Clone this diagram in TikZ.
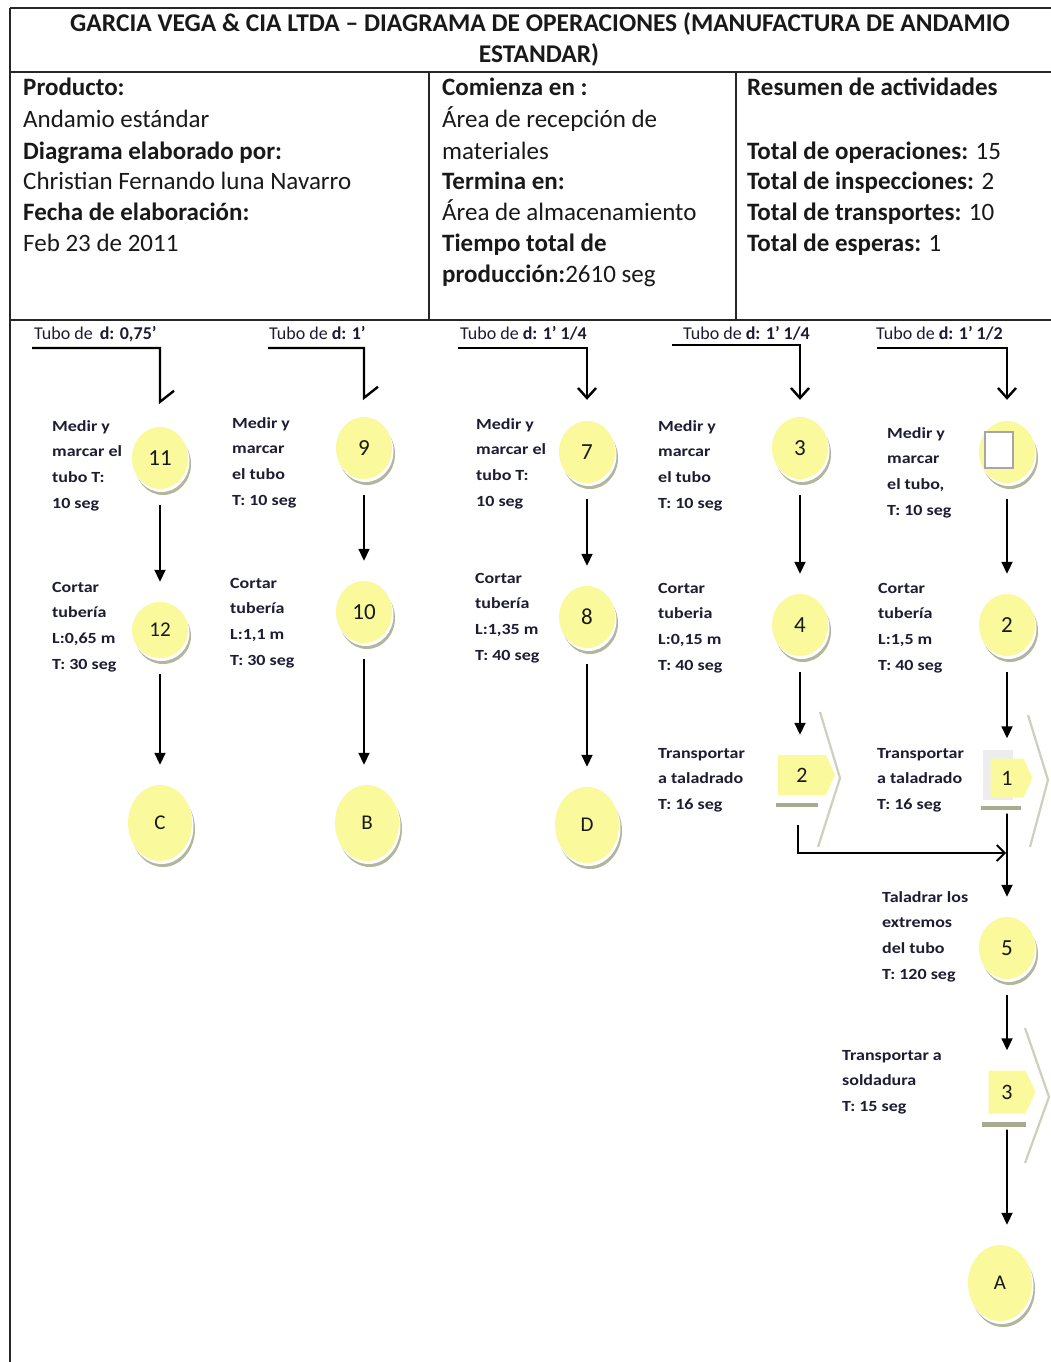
\documentclass[tikz,border=0pt]{standalone}
\usepackage{fontspec}
\setmainfont{Carlito}
\newfontfamily\lblfont{Carlito}[FakeStretch=1.16]
\usetikzlibrary{arrows.meta,shapes.geometric,shapes.symbols,shadows}
\definecolor{yel}{RGB}{250,249,155}
\definecolor{shd}{RGB}{178,182,158}
\definecolor{chev}{RGB}{205,208,186}
\definecolor{barc}{RGB}{168,171,142}
\definecolor{ink}{RGB}{28,28,50}
\definecolor{hdr}{RGB}{25,25,25}
\begin{document}
\begin{tikzpicture}[x=1pt,y=-1pt,
 frame/.style={line width=1.8pt, draw=black!85},
 hbold/.style={anchor=base west, inner sep=0, font=\fontsize{25}{31}\selectfont\bfseries, text=hdr},
 hreg/.style={anchor=base west, inner sep=0, font=\fontsize{25}{31}\selectfont, text=hdr},
 ttl/.style={anchor=base, inner sep=0, font=\fontsize{25.5}{31}\selectfont\bfseries, text=hdr},
 lbl/.style={anchor=base west, inner sep=0, align=left, font=\lblfont\bfseries\fontsize{15.5}{25.8}\selectfont, text=ink},
 lbl4/.style={lbl, yshift=-77.4pt},
 lbl3/.style={lbl, yshift=-51.6pt},
 tubelbl/.style={anchor=base west, inner sep=0, font=\fontsize{18}{20}\selectfont, text=ink},
 op/.style={ellipse, fill=yel, inner sep=0, minimum width=56pt, minimum height=62pt, font=\fontsize{23}{23}\selectfont, text=hdr,
   general shadow={fill=shd, shadow xshift=3pt, shadow yshift=-6pt},
   general shadow={fill=white, shadow xshift=1.5pt, shadow yshift=-3pt}},
 fin/.style={op, minimum width=64pt, minimum height=76pt, font=\fontsize{21}{21}\selectfont},
 tr/.style={signal, signal to=east, signal pointer angle=130, fill=yel, inner sep=0, font=\fontsize{22}{22}\selectfont, text=hdr},
 flow/.style={line width=1.8pt, -{Triangle[length=12pt,width=11pt]}, shorten <=16pt, shorten >=20pt},
 tube/.style={line width=2.4pt},
 tubetip/.style={tube, -{Straight Barb[length=10pt,width=18pt]}},
 bar/.style={line width=4.5pt, draw=barc},
 chevl/.style={line width=2.2pt, draw=chev},
]
\useasboundingbox (0,0) rectangle (1051,1362);
\fill[white] (0,0) rectangle (1051,1362);

% frame
\draw[frame] (10,8) -- (1051,8);
\draw[frame] (10,72) -- (1051,72);
\draw[frame] (10,320) -- (1051,320);
\draw[frame] (10,8) -- (10,1362);
\draw[frame] (429,72) -- (429,320);
\draw[frame] (736,72) -- (736,320);

% title
\node[ttl] (title1) at (540,32) {GARCIA VEGA \& CIA LTDA – DIAGRAMA DE OPERACIONES (MANUFACTURA DE ANDAMIO};
\node[ttl] (title2) at (539,63) {ESTANDAR)};

% info column 1
\node[hbold] (p1) at (23,96) {Producto:};
\node[hreg]  (p2) at (23,128) {Andamio estándar};
\node[hbold] (p3) at (23,160) {Diagrama elaborado por:};
\node[hreg]  (p4) at (23,189) {Christian Fernando luna Navarro};
\node[hbold] (p5) at (23,220) {Fecha de elaboración:};
\node[hreg]  (p6) at (23,251) {Feb 23 de 2011};
% info column 2
\node[hbold] (q1) at (442,96) {Comienza en :};
\node[hreg]  (q2) at (442,128) {Área de recepción de};
\node[hreg]  (q3) at (442,160) {materiales};
\node[hbold] (q4) at (442,189) {Termina en:};
\node[hreg]  (q5) at (442,220) {Área de almacenamiento};
\node[hbold] (q6) at (442,251) {Tiempo total de};
\node[hreg]  (q7) at (442,282) {\textbf{producción:}2610 seg};
% info column 3
\node[hbold] (r1) at (747,96) {Resumen de actividades};
\node[hreg]  (r2) at (747,160) {\textbf{Total de operaciones:} 15};
\node[hreg]  (r3) at (747,189) {\textbf{Total de inspecciones:} 2};
\node[hreg]  (r4) at (747,220) {\textbf{Total de transportes:} 10};
\node[hreg]  (r5) at (747,251) {\textbf{Total de esperas:} 1};

% tube labels
\node[tubelbl] (tl1) at (34,339) {Tubo de \,\textbf{d: 0,75’}};
\node[tubelbl] (tl2) at (269,339) {Tubo de \textbf{d: 1’}};
\node[tubelbl] (tl3) at (460,339) {Tubo de \textbf{d: 1’ 1/4}};
\node[tubelbl] (tl4) at (683,339) {Tubo de \textbf{d: 1’ 1/4}};
\node[tubelbl] (tl5) at (876,339) {Tubo de \textbf{d: 1’ 1/2}};

% column 1
\node[op] (n11) at (160,458) {11};
\node[op, minimum height=56pt, font=\fontsize{21}{21}\selectfont] (n12) at (160,630) {12};
\node[fin] (nC) at (160,823) {C};
\node[lbl4] (l11) at (52,431) {Medir y\\marcar el\\tubo T:\\10 seg};
\node[lbl4] (l12) at (52,592) {Cortar\\tubería\\L:0,65 m\\T: 30 seg};

% column 2
\node[op] (n9) at (364,448) {9};
\node[op] (n10) at (364,612) {10};
\node[fin] (nB) at (367,823) {B};
\node[lbl4] (l9) at (232,428) {Medir y\\marcar\\el tubo\\T: 10 seg};
\node[lbl4] (l10) at (230,588) {Cortar\\tubería\\L:1,1 m\\T: 30 seg};

% column 3
\node[op] (n7) at (587,452) {7};
\node[op] (n8) at (587,617) {8};
\node[fin] (nD) at (587,825) {D};
\node[lbl4] (l7) at (476,429) {Medir y\\marcar el\\tubo T:\\10 seg};
\node[lbl4] (l8) at (475,583) {Cortar\\tubería\\L:1,35 m\\T: 40 seg};

% column 4
\node[op] (n3) at (800,448) {3};
\node[op] (n4) at (800,625) {4};
\node[tr, minimum width=57pt, minimum height=40pt] (t2) at (802,775) {2};
\node[lbl4] (l3) at (658,431) {Medir y\\marcar\\el tubo\\T: 10 seg};
\node[lbl4] (l4) at (658,593) {Cortar\\tuberia\\L:0,15 m\\T: 40 seg};
\node[lbl3] (lt2) at (658,758) {Transportar\\a taladrado\\T: 16 seg};

% column 5
\node[op] (nsq) at (1007,452) {};
\node[rectangle, fill=white, draw=gray!70, line width=1.5pt, minimum width=28pt, minimum height=36pt, inner sep=0] (sqbox) at (999,450) {};
\node[op] (n2) at (1007,625) {2};
\node[rectangle, fill=gray!14, minimum width=30pt, minimum height=50pt, inner sep=0] (t1bg) at (998,775) {};
\node[tr, minimum width=42pt, minimum height=39pt] (t1) at (1007,778) {1};
\node[op] (n5) at (1007,948) {5};
\node[tr, minimum width=47pt, minimum height=43pt] (t3) at (1007,1092) {3};
\node[fin] (nA) at (1000,1283) {A};
\node[lbl4] (lsq) at (887,438) {Medir y\\marcar\\el tubo,\\T: 10 seg};
\node[lbl4] (l2) at (878,593) {Cortar\\tubería\\L:1,5 m\\T: 40 seg};
\node[lbl3] (lt1) at (877,758) {Transportar\\a taladrado\\T: 16 seg};
\node[lbl4] (l5) at (882,902) {Taladrar los\\extremos\\del tubo\\T: 120 seg};
\node[lbl3] (lt3) at (842,1060) {Transportar a\\soldadura\\T: 15 seg};

% transport decorations
\draw[bar] ([xshift=-2pt,yshift=-10pt]t2.south west) -- ++(42,0);
\draw[bar] ([xshift=-2pt,yshift=-8pt]t1bg.south west) -- ++(40,0);
\draw[bar] ([xshift=-6pt,yshift=-11pt]t3.south west) -- ++(44,0);
\draw[chevl] (820,712) -- (840,778) -- (818,847);
\draw[chevl] (1028,715) -- (1048,780) -- (1030,847);
\draw[chevl] (1025,1028) -- (1049,1097) -- (1025,1163);

% tube feed lines
\coordinate (s1) at (32,348);
\coordinate (s2) at (268,348);
\coordinate (s3) at (458,348);
\coordinate (s4) at (672,345);
\coordinate (s5) at (877,348);
\draw[tube] (s1) -| ([yshift=25pt]n11.north) -- ++(14,-11);
\draw[tube] (s2) -| ([yshift=19pt]n9.north) -- ++(14,-11);
\draw[tubetip] (s3) -| ([yshift=21pt]n7.north);
\draw[tubetip] (s4) -| ([yshift=17pt]n3.north);
\draw[tubetip] (s5) -| ([yshift=21pt]nsq.north);

% flow arrows
\draw[flow] (n11) -- (n12);
\draw[flow] (n12) -- (nC);
\draw[flow] (n9) -- (n10);
\draw[flow] (n10) -- (n10 |- nB.north);
\draw[flow] (n7) -- (n8);
\draw[flow] (n8) -- (nD);
\draw[flow] (n3) -- (n4);
\draw[flow] (n4) -- (n4 |- t2.north);
\draw[flow] (nsq) -- (n2);
\draw[flow] (n2) -- (t1);
\draw[flow] (t1) -- (n5);
\draw[flow] (n5) -- (t3);
\draw[flow] (t3) -- (t3 |- nA.north);

% join from transport 2
\coordinate (j) at (1006,853);
\draw[line width=1.8pt, -{Straight Barb[length=8pt,width=16pt]}] ([xshift=-4pt,yshift=-30pt]t2.south) |- (j);
\end{tikzpicture}
\end{document}
